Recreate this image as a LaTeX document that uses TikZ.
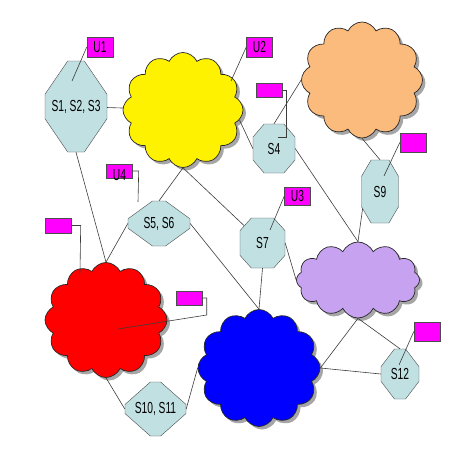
\documentclass[tikz,border=0pt]{standalone}
\usepackage{fontspec}
\setmainfont[FakeStretch=0.64]{Liberation Sans}
\usetikzlibrary{positioning,shapes.misc,shapes.symbols,shadows}

\definecolor{octfill}{RGB}{192,224,226}
\definecolor{cloudorange}{RGB}{251,187,125}
\definecolor{cloudpurple}{RGB}{198,162,240}
\definecolor{tagpink}{RGB}{255,0,255}
\definecolor{linegray}{RGB}{60,60,60}

\begin{document}
\begin{tikzpicture}[x=1pt,y=-1pt,font=\fontsize{16}{18}\selectfont,
	octa/.style 2 args={chamfered rectangle,draw=black!70,fill=octfill,inner sep=0pt,minimum width=#1,minimum height=#2,chamfered rectangle angle={atan(#1/#2)},chamfered rectangle xsep=0.293*#1,chamfered rectangle ysep=0.293*#2},
	cloudy/.style={cloud,cloud puffs=12,cloud puff arc=130,cloud ignores aspect,draw=black!85,line width=0.7pt,inner sep=0pt,drop shadow={shadow xshift=3pt,shadow yshift=-3pt,fill=black,opacity=0.35}},
	tag/.style={rectangle,draw=black!70,fill=tagpink,inner sep=0pt,minimum width=26pt,minimum height=#1},
	link/.style={draw=linegray,line width=0.6pt},
	callout/.style={draw=linegray,line width=0.6pt}]
		\useasboundingbox (0,0) rectangle (474,474);

		\draw (183,110) node[cloudy,fill=yellow,minimum width=120pt,minimum height=115pt] (cyel) {};
		\draw (362,80) node[cloudy,fill=cloudorange,minimum width=121pt,minimum height=116pt] (cora) {};
		\draw (106,320) node[cloudy,fill=red,minimum width=122pt,minimum height=115pt] (cred) {};
		\draw (259,368) node[cloudy,fill=blue,minimum width=122pt,minimum height=117pt] (cblu) {};
		\draw (358,280) node[cloudy,fill=cloudpurple,minimum width=123pt,minimum height=76pt] (cpur) {};

		\draw (76,106.5) node[octa={62pt}{91pt}] (s123) {S1, S2, S3};
		\draw (159,223.5) node[octa={62pt}{45pt}] (s56) {S5, S6};
		\draw (274,148.5) node[octa={42pt}{49pt}] (s4) {S4};
		\draw (380,191.5) node[octa={37pt}{63pt}] (s9) {S9};
		\draw (262.5,243) node[octa={45pt}{50pt}] (s7) {S7};
		\draw (155.5,409) node[octa={61pt}{54pt}] (s1011) {S10, S11};
		\draw (400,374) node[octa={38pt}{50pt}] (s12) {S12};

		\draw (100,47) node[tag=20pt] (u1) {\raisebox{-2pt}{U1}};
		\draw (259.5,47) node[tag=20pt] (u2) {\raisebox{-2pt}{U2}};
		\draw (297.5,196) node[tag=18pt] (u3) {\raisebox{-2pt}{U3}};
		\draw (119.5,171) node[tag=14pt] (u4) {\raisebox{-9pt}[0pt][0pt]{U4}};
		\draw (269.5,90) node[tag=14pt] (m1) {};
		\draw (413,142.5) node[tag=19pt] (m2) {};
		\draw (58.5,225.5) node[tag=15pt] (m3) {};
		\draw (189.5,298) node[tag=14pt] (m4) {};
		\draw (427,331.5) node[tag=19pt] (m5) {};

		\coordinate (u1tip) at (72,81);
		\coordinate (u2tip) at (231,81);
		\coordinate (u3tip) at (270,230);
		\coordinate (u4tip) at (138,202);
		\coordinate (m1tip) at (278,137);
		\coordinate (m2tip) at (384,176);
		\coordinate (m3tip) at (80,273);
		\coordinate (m4tip) at (118,329);
		\coordinate (m5tip) at (399,365);

		\path[link]
			(s123)         edge (cyel)
			(s123.south)   edge (cred.north)
			(s56.west)     edge (cred.north)
			(cyel.south)   edge (s56.north)
			(cyel.south)   edge (s7)
			(cyel.-10)     edge (s4.west)
			(s4.north)     edge (cora.west)
			(s4.east)      edge (cpur.north)
			(cora.south)   edge (s9.north)
			(s9.225)       edge (cpur.north)
			(s7.east)      edge (cpur.west)
			(s7.south)     edge (cblu.north)
			(s56.east)     edge (cblu.north)
			(cred.south)   edge (s1011.west)
			(s1011.east)   edge (cblu.west)
			(cblu.east)    edge (cpur.south)
			(cblu.east)    edge (s12.west)
			(cpur.south)   edge (s12.north);

		\path[callout]
			(u1.west) edge (u1tip)
			(u2.west) edge (u2tip)
			(u3.west) edge (u3tip)
			(m2.west) edge (m2tip)
			(m5.west) edge (m5tip);
		\draw[callout] (u4.east) -- ++(6,0) -- (u4tip);
		\draw[callout] (m1.east) -- ++(4,0) |- (m1tip);
		\draw[callout] (m3.east) -- ++(9,0) -- (m3tip);
		\draw[callout] (m4.east) -- ++(4,0) -- ++(0,17) -- (m4tip);
\end{tikzpicture}
\end{document}
